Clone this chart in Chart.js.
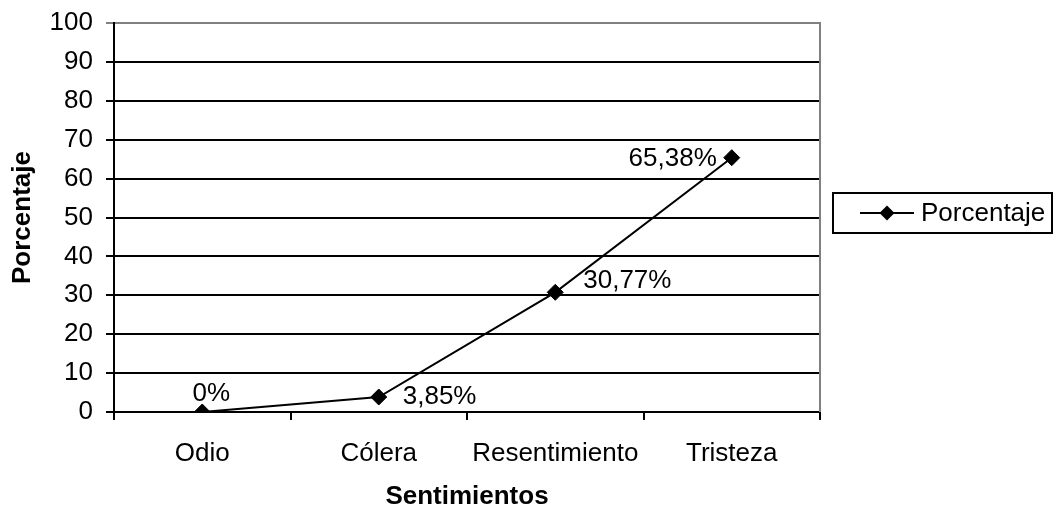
<!DOCTYPE html>
<html>
<head>
<meta charset="utf-8">
<script src="https://cdn.jsdelivr.net/npm/chart.js@4/dist/chart.umd.min.js"></script>
<style>
  html, body { margin: 0; padding: 0; background: #fff; }
  #wrap { width: 1058px; height: 508px; position: relative; }
</style>
</head>
<body>
<div id="wrap"><canvas id="c" width="1058" height="508"></canvas></div>
<script>
// ---- data ----
const categories = ['Odio', 'Cólera', 'Resentimiento', 'Tristeza'];
const seriesName = 'Porcentaje';
const values = [0, 3.85, 30.77, 65.38];
const valueLabels = ['0%', '3,85%', '30,77%', '65,38%'];
const xTitle = 'Sentimientos';
const yTitle = 'Porcentaje';
const yMin = 0, yMax = 100, yStep = 10;

// ---- style ----
const FONT = '"Liberation Sans", Arial, sans-serif';
const FS = 26;
// label placement relative to each point: [dx, dy, align]
const labelPlacement = [[9, -18, 'center'], [24, 0, 'left'], [28, -11, 'left'], [-15, 1, 'right']];

const dataLabelsPlugin = {
  id: 'dataLabels',
  afterDatasetsDraw(chart) {
    const ctx = chart.ctx;
    const meta = chart.getDatasetMeta(0);
    ctx.save();
    ctx.font = FS + 'px ' + FONT;
    ctx.fillStyle = '#000';
    ctx.textBaseline = 'middle';
    meta.data.forEach((pt, i) => {
      const p = labelPlacement[i];
      ctx.textAlign = p[2];
      ctx.fillText(valueLabels[i], pt.x + p[0], pt.y + p[1]);
    });
    ctx.restore();
  }
};

const frameLegendPlugin = {
  id: 'frameLegend',
  afterDraw(chart) {
    const ctx = chart.ctx;
    const a = chart.chartArea;
    ctx.save();
    // right border of plot
    ctx.strokeStyle = '#808080';
    ctx.lineWidth = 2;
    ctx.beginPath();
    ctx.moveTo(a.right, a.top - 1);
    ctx.lineTo(a.right, a.bottom);
    ctx.stroke();
    // legend box
    const bx = 833, by = 193, bw = 219, bh = 40;
    ctx.strokeStyle = '#000';
    ctx.lineWidth = 2;
    ctx.strokeRect(bx, by, bw, bh);
    const cy = by + bh / 2;
    ctx.beginPath();
    ctx.moveTo(860, cy);
    ctx.lineTo(914, cy);
    ctx.stroke();
    const r = 7.5;
    ctx.fillStyle = '#000';
    ctx.beginPath();
    ctx.moveTo(887, cy - r);
    ctx.lineTo(887 + r, cy);
    ctx.lineTo(887, cy + r);
    ctx.lineTo(887 - r, cy);
    ctx.closePath();
    ctx.fill();
    ctx.font = FS + 'px ' + FONT;
    ctx.textAlign = 'left';
    ctx.textBaseline = 'middle';
    ctx.fillText(chart.data.datasets[0].label, 921, cy + 1);
    ctx.restore();
  }
};

new Chart(document.getElementById('c'), {
  type: 'line',
  data: {
    labels: categories,
    datasets: [{
      label: seriesName,
      data: values,
      borderColor: '#000',
      backgroundColor: '#000',
      borderWidth: 2,
      pointStyle: 'rectRot',
      pointRadius: 8,
      pointHoverRadius: 8,
      pointBackgroundColor: '#000',
      pointBorderColor: '#000',
      pointBorderWidth: 1,
      tension: 0,
      fill: false
    }]
  },
  options: {
    responsive: false,
    animation: false,
    devicePixelRatio: 1,
    layout: { padding: { top: 23, right: 238, bottom: 0, left: 0 } },
    plugins: { legend: { display: false }, tooltip: { enabled: false } },
    scales: {
      x: {
        type: 'category',
        offset: true,
        afterFit(s) { s.height = 96; s.paddingLeft = 0; s.paddingRight = 0; },
        grid: { display: true, drawOnChartArea: false, drawTicks: true, tickLength: 8, color: '#000', lineWidth: 2, offset: true },
        border: { display: true, color: '#000', width: 2 },
        ticks: { color: '#000', font: { family: FONT, size: FS }, padding: 18, maxRotation: 0, autoSkip: false },
        title: { display: true, text: xTitle, color: '#000', font: { family: FONT, size: FS, weight: 'bold', lineHeight: 1 }, padding: { top: 0, bottom: -2 } }
      },
      y: {
        min: yMin, max: yMax,
        afterFit(s) { s.width = 114; s.paddingTop = 0; s.paddingBottom = 0; },
        grid: {
          color: (c) => (c.tick && c.tick.value === yMax) ? '#808080' : '#000',
          lineWidth: 2, tickLength: 8, drawTicks: true
        },
        border: { display: true, color: '#000', width: 2 },
        ticks: { stepSize: yStep, color: '#000', font: { family: FONT, size: FS }, padding: 13 },
        title: { display: true, text: yTitle, color: '#000', font: { family: FONT, size: FS, weight: 'bold', lineHeight: 1 }, padding: { top: 10, bottom: 0 } }
      }
    }
  },
  plugins: [dataLabelsPlugin, frameLegendPlugin]
});
</script>
</body>
</html>
